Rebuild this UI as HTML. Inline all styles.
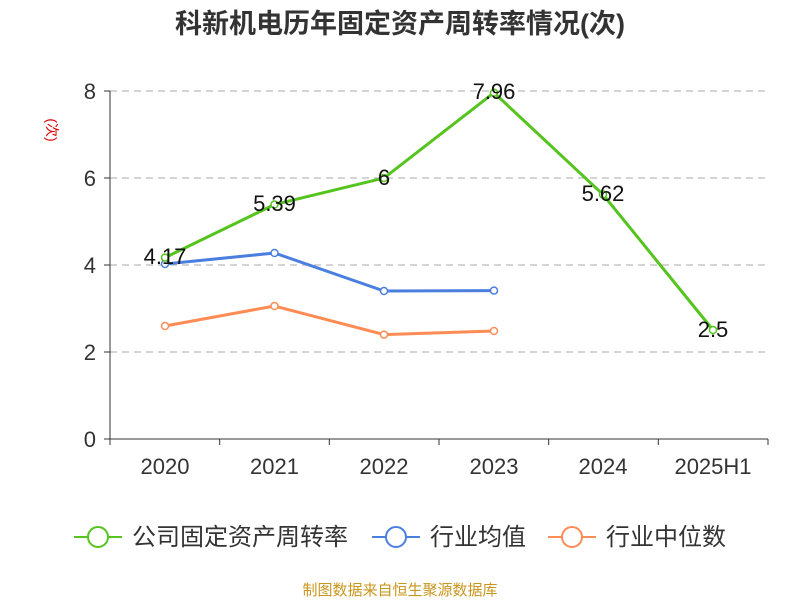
<!DOCTYPE html>
<html><head><meta charset="utf-8"><style>body{margin:0;background:#fff}</style></head><body>
<svg width="800" height="600" xmlns="http://www.w3.org/2000/svg" font-family="'Liberation Sans','Noto Sans CJK SC',sans-serif">
<rect width="800" height="600" fill="#fff"/>
<text x="400" y="33" text-anchor="middle" font-size="27" font-weight="bold" fill="#333">科新机电历年固定资产周转率情况(次)</text>
<g stroke="#bbb" stroke-dasharray="7,5" stroke-width="1.2">
<line x1="110" y1="91" x2="768" y2="91"/><line x1="110" y1="178" x2="768" y2="178"/><line x1="110" y1="265" x2="768" y2="265"/><line x1="110" y1="352" x2="768" y2="352"/>
</g>
<line x1="110" y1="91" x2="110" y2="439" stroke="#333"/>
<line x1="110" y1="439" x2="768" y2="439" stroke="#333"/>
<g stroke="#333">
<line x1="104" y1="91" x2="110" y2="91"/><line x1="104" y1="178" x2="110" y2="178"/><line x1="104" y1="265" x2="110" y2="265"/><line x1="104" y1="352" x2="110" y2="352"/><line x1="104" y1="439" x2="110" y2="439"/>
<line x1="110" y1="439" x2="110" y2="445"/><line x1="219.7" y1="439" x2="219.7" y2="445"/><line x1="329.3" y1="439" x2="329.3" y2="445"/><line x1="439" y1="439" x2="439" y2="445"/><line x1="548.7" y1="439" x2="548.7" y2="445"/><line x1="658.3" y1="439" x2="658.3" y2="445"/><line x1="768" y1="439" x2="768" y2="445"/>
</g>
<g font-size="22" fill="#333" text-anchor="end">
<text x="96" y="99">8</text><text x="96" y="186">6</text><text x="96" y="273">4</text><text x="96" y="360">2</text><text x="96" y="447">0</text>
</g>
<g font-size="22" fill="#333" text-anchor="middle">
<text x="165" y="474">2020</text><text x="274.5" y="474">2021</text><text x="384" y="474">2022</text><text x="494" y="474">2023</text><text x="603" y="474">2024</text><text x="713" y="474">2025H1</text>
</g>
<text x="47" y="130" font-size="14" fill="#d00" text-anchor="middle" transform="rotate(90 47 130)">(次)</text>
<polyline fill="none" stroke="#ff8c55" stroke-width="3" points="165,326 274.5,306 384,334.6 494,331"/>
<polyline fill="none" stroke="#4a7fe0" stroke-width="3" points="165,264 274.5,253 384,291 494,290.6"/>
<polyline fill="none" stroke="#55c41e" stroke-width="3" points="165,257.6 274.5,204.5 384,178 494,92.7 603,194.5 713,330"/>
<g fill="#fff" stroke-width="1.5">
<g stroke="#ff8c55"><circle cx="165" cy="326" r="3.5"/><circle cx="274.5" cy="306" r="3.5"/><circle cx="384" cy="334.6" r="3.5"/><circle cx="494" cy="331" r="3.5"/></g>
<g stroke="#4a7fe0"><circle cx="165" cy="264" r="3.5"/><circle cx="274.5" cy="253" r="3.5"/><circle cx="384" cy="291" r="3.5"/><circle cx="494" cy="290.6" r="3.5"/></g>
<g stroke="#55c41e"><circle cx="165" cy="257.6" r="3.5"/><circle cx="274.5" cy="204.5" r="3.5"/><circle cx="384" cy="178" r="3.5"/><circle cx="494" cy="92.7" r="3.5"/><circle cx="603" cy="194.5" r="3.5"/><circle cx="713" cy="330" r="3.5"/></g>
</g>
<g font-size="22" fill="#111" text-anchor="middle">
<text x="165" y="264">4.17</text><text x="274.5" y="211">5.39</text><text x="384" y="185">6</text><text x="494" y="99">7.96</text><text x="603" y="201">5.62</text><text x="713" y="337">2.5</text>
</g>
<g stroke-width="2" fill="#fff">
<line x1="74" y1="537" x2="122" y2="537" stroke="#55c41e"/><circle cx="98" cy="537" r="10" stroke="#55c41e"/>
<line x1="372" y1="537" x2="420" y2="537" stroke="#4a7fe0"/><circle cx="396" cy="537" r="10" stroke="#4a7fe0"/>
<line x1="548" y1="537" x2="596" y2="537" stroke="#ff8c55"/><circle cx="572" cy="537" r="10" stroke="#ff8c55"/>
</g>
<g font-size="24" fill="#333">
<text x="132" y="545">公司固定资产周转率</text><text x="430" y="545">行业均值</text><text x="606" y="545">行业中位数</text>
</g>
<text x="400" y="595" font-size="15" fill="#c8961e" text-anchor="middle">制图数据来自恒生聚源数据库</text>
</svg>
</body></html>
